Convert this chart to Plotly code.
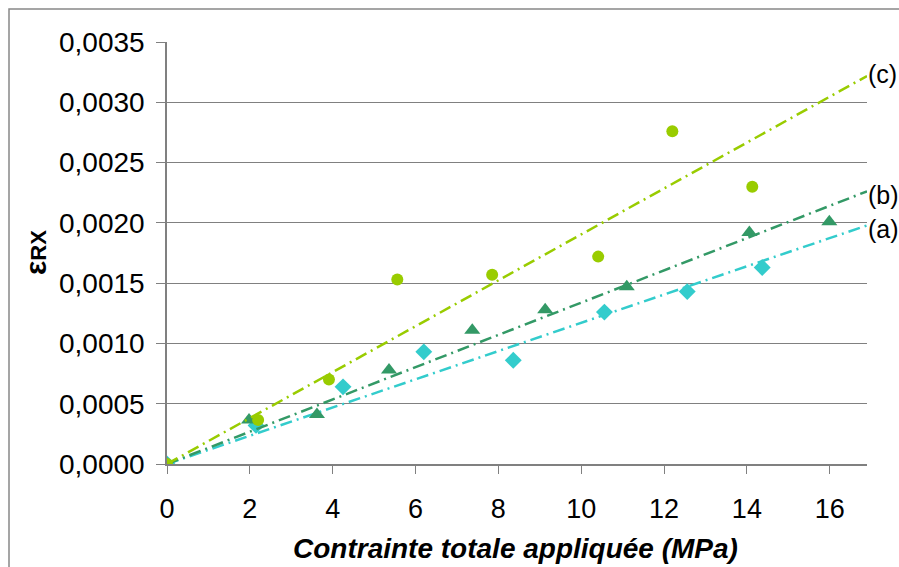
import numpy as np
import plotly.graph_objects as go

# Data
xa = [0, 2.15, 4.25, 6.2, 8.36, 10.56, 12.56, 14.37]
ya = [0, 0.00032, 0.00064, 0.00093, 0.00086, 0.00126, 0.00143, 0.00163]

xb = [0, 1.98, 3.62, 5.36, 7.37, 9.13, 11.1, 14.06, 15.99]
yb = [0, 0.000365, 0.00041, 0.00078, 0.00111, 0.00128, 0.00147, 0.00192, 0.00201]

xc = [0, 2.2, 3.91, 5.56, 7.85, 10.41, 12.2, 14.13]
yc = [0, 0.000365, 0.0007, 0.00153, 0.00157, 0.00172, 0.00276, 0.0023]

labels = ["(a)", "(b)", "(c)"]
x_ticks = [0, 2, 4, 6, 8, 10, 12, 14, 16]

XMAX = 16.9
colors = ["#33CCCC", "#339966", "#99CC00"]
symbols = ["diamond", "triangle-up", "circle"]
sizes = [13, 14, 12]
yshifts = [-4, -4, 2]

FONT = "Liberation Sans, Arial"

fig = go.Figure()

series = [(xa, ya), (xb, yb), (xc, yc)]
for i, (xs, ys) in enumerate(series):
    x = np.array(xs)
    y = np.array(ys)
    slope = float((x * y).sum() / (x * x).sum())  # linear trend through origin
    fig.add_trace(go.Scatter(
        x=[0, XMAX], y=[0, slope * XMAX], mode="lines",
        line=dict(color=colors[i], width=2.5, dash="12px,5px,2px,5px"),
        hoverinfo="skip", showlegend=False))
    fig.add_trace(go.Scatter(
        x=xs, y=ys, mode="markers",
        marker=dict(color=colors[i], symbol=symbols[i], size=sizes[i], line=dict(width=0)),
        showlegend=False))
    fig.add_annotation(x=1, xref="paper", y=slope * XMAX, yref="y",
                       text=labels[i], showarrow=False, xanchor="left", yanchor="middle",
                       xshift=-1, yshift=yshifts[i],
                       font=dict(family=FONT, size=25, color="black"))

W, H = 899, 567
L, R, T, B = 167, 32, 42, 103
pw, ph = W - L - R, H - T - B

fig.update_layout(
    width=W, height=H,
    margin=dict(l=L, r=R, t=T, b=B),
    paper_bgcolor="white", plot_bgcolor="white",
    separators=", ",
    font=dict(family=FONT, size=28, color="black"),
    xaxis=dict(range=[0, XMAX], tickvals=x_ticks, showgrid=False, zeroline=False,
               showline=True, linecolor="#808080", linewidth=1.5,
               ticks="outside", ticklen=8, tickcolor="#808080", tickwidth=1,
               ticklabelstandoff=12, tickfont=dict(size=27)),
    yaxis=dict(range=[0, 0.0035], dtick=0.0005, tickformat=".4f",
               showgrid=True, gridcolor="#808080", gridwidth=1, zeroline=False,
               showline=True, linecolor="#808080", linewidth=1.5,
               ticks="outside", ticklen=9, tickcolor="#808080", tickwidth=1,
               ticklabelstandoff=6, tickfont=dict(size=28)),
)

# axis titles
fig.add_annotation(x=(515 - L) / pw, y=-(548 - (T + ph)) / ph, xref="paper", yref="paper",
                   text="<b><i>Contrainte totale appliquée (MPa)</i></b>", showarrow=False,
                   xanchor="center", yanchor="middle",
                   font=dict(family=FONT, size=28, color="black"))
fig.add_annotation(x=(35 - L) / pw, y=(T + ph - 253) / ph, xref="paper", yref="paper",
                   text="<b>ε<span style='font-size:22px'>RX</span></b>", showarrow=False,
                   textangle=-90, xanchor="center", yanchor="middle",
                   font=dict(family=FONT, size=30, color="black"))

# outer chart border
fig.add_shape(type="rect", xref="paper", yref="paper",
              x0=(9 - L) / pw, x1=(W + 20 - L) / pw,
              y0=-(H + 20 - (T + ph)) / ph, y1=(T + ph - 9) / ph,
              line=dict(color="#888888", width=1.5), fillcolor="rgba(0,0,0,0)", layer="below")

fig.write_html(
    "out.html",
    config={"displayModeBar": False},
    post_script="document.body.style.margin='0';document.body.style.overflow='hidden';",
)
